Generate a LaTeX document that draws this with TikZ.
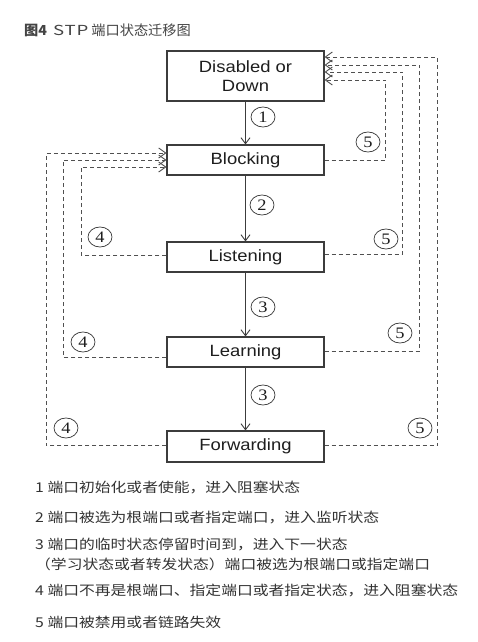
\documentclass[tikz,border=0pt]{standalone}
\usepackage{fontspec}
\setmainfont{Liberation Sans}
\newfontfamily\cjk{Noto Sans CJK SC}[FakeStretch=1.17]
\newfontfamily\titlefont{Noto Sans CJK SC}[FakeStretch=1.03]
\newfontfamily\stpfont{Noto Sans CJK SC}[FakeStretch=1.35,LetterSpace=6]
\newfontfamily\boxfont{Liberation Sans}[FakeStretch=1.13]
\newfontfamily\numfont{Liberation Serif}[FakeStretch=1.15]
\usetikzlibrary{arrows.meta,shapes.geometric}
\definecolor{boxline}{HTML}{3C3C3C}
\definecolor{dashcol}{HTML}{505050}
\definecolor{txt}{HTML}{1E1E1E}
\definecolor{legend}{HTML}{333333}
\definecolor{titlecol}{HTML}{444444}
\tikzset{
  statebox/.style={draw=boxline, line width=1.1pt, minimum width=157pt, inner sep=0pt,
    align=center, font=\boxfont\fontsize{16.3}{19}\selectfont, text=txt},
  mainarrow/.style={draw=boxline, line width=0.9pt, -{Straight Barb[length=6pt,width=9pt]}},
  dline/.style={draw=dashcol, line width=0.9pt, dash pattern=on 4pt off 3pt,
    -{Straight Barb[length=7pt,width=10pt]}},
  numlabel/.style={ellipse, draw=legend, line width=0.7pt, minimum width=24pt, minimum height=20pt,
    inner sep=0pt, font=\numfont\fontsize{16}{16}\selectfont, text=txt},
  legendline/.style={anchor=west, inner sep=0pt, text=legend, font=\cjk\fontsize{13.5}{15}\selectfont}
}
\begin{document}
\begin{tikzpicture}[x=1pt,y=-1pt]
\useasboundingbox[fill=white] (0,0) rectangle (478,642);
% title
\node[anchor=west, inner sep=0pt, text=titlecol, font=\titlefont\fontsize{13.8}{15}\selectfont] (title) at (24,30) {{\bfseries 图4}\hspace{6pt}{\stpfont STP}\hspace{3pt}端口状态迁移图};
% states
\node[statebox, minimum height=50pt] (dis) at (245.5,76) {Disabled or\\Down};
\node[statebox, minimum height=30pt] (blk) at (245.5,160) {Blocking};
\node[statebox, minimum height=30pt] (lis) at (245.5,257) {Listening};
\node[statebox, minimum height=30pt] (lrn) at (245.5,352) {Learning};
\node[statebox, minimum height=31pt] (fwd) at (245.5,446.5) {Forwarding};
% main transitions
\draw[mainarrow] (dis) -- (blk);
\draw[mainarrow] (blk) -- (lis);
\draw[mainarrow] (lis) -- (lrn);
\draw[mainarrow] (lrn) -- (fwd);
% left (4) transitions to Blocking
\draw[dline] ([yshift=2pt]lis.west) -- ++(-85,0) |- ([yshift=-7pt]blk.west);
\draw[dline] ([yshift=-5pt]lrn.west) -- ++(-103,0) |- (blk.west);
\draw[dline] ([yshift=1pt]fwd.west) -- ++(-120,0) |- ([yshift=7pt]blk.west);
% right (5) transitions to Disabled
\draw[dline] (blk.east) -- ++(61,0) |- ([yshift=-4pt]dis.east);
\draw[dline] ([yshift=3pt]lis.east) -- ++(78,0) |- ([yshift=4pt]dis.east);
\draw[dline] ([yshift=1pt]lrn.east) -- ++(95,0) |- ([yshift=11pt]dis.east);
\draw[dline] ([yshift=1pt]fwd.east) -- ++(113,0) |- ([yshift=19pt]dis.east);
% circled labels
\node[numlabel] (n1) at (263,117) {1};
\node[numlabel] (n2) at (262,205) {2};
\node[numlabel] (n3a) at (263,307) {3};
\node[numlabel] (n3b) at (263,395) {3};
\node[numlabel] (n4a) at (100,237) {4};
\node[numlabel] (n4b) at (83,342) {4};
\node[numlabel] (n4c) at (66,428) {4};
\node[numlabel] (n5a) at (368,142) {5};
\node[numlabel] (n5b) at (386,239) {5};
\node[numlabel] (n5c) at (400,333) {5};
\node[numlabel] (n5d) at (420,428) {5};
% legend
\node[legendline] (l1) at (35,487) {1 端口初始化或者使能，进入阻塞状态};
\node[legendline] (l2) at (35,517) {2 端口被选为根端口或者指定端口，进入监听状态};
\node[legendline] (l3) at (35,545) {3 端口的临时状态停留时间到，进入下一状态};
\node[legendline] (l3b) at (35,564) {（学习状态或者转发状态）端口被选为根端口或指定端口};
\node[legendline] (l4) at (35,590) {4 端口不再是根端口、指定端口或者指定状态，进入阻塞状态};
\node[legendline] (l5) at (35,622) {5 端口被禁用或者链路失效};
\end{tikzpicture}
\end{document}
